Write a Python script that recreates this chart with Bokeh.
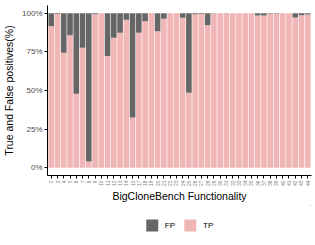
import math
from bokeh.plotting import figure
from bokeh.layouts import column
from bokeh.models import ColumnDataSource, Range1d, FixedTicker, Legend, LegendItem
from bokeh.embed import file_html
from bokeh.resources import INLINE

# Functionality IDs (x categories)
functionality = [2, 3, 4, 5, 6, 7, 8, 9, 10, 11, 12, 13, 14, 15, 17, 18, 19, 20, 21, 22,
                 23, 24, 25, 26, 27, 28, 29, 30, 31, 32, 33, 34, 35, 36, 37, 38, 39, 40,
                 41, 42, 43, 44]
# True positives (%) per functionality
tp_pct = [91.5, 99.5, 74.5, 85.7, 47.9, 77.7, 4.1, 99.3, 100, 72.3, 84.2, 87.4, 95.7, 32.5,
          87.4, 94.8, 100, 88.3, 96.5, 100, 100, 97.0, 48.5, 99.4, 99.5, 92.2, 99.8, 100,
          99.8, 100, 100, 100, 100, 98.5, 98.5, 99.7, 99.7, 100, 100, 97.2, 98.7, 99.2]
# False positives (%) per functionality
fp_pct = [round(100 - v, 1) for v in tp_pct]

y_ticks = [0, 25, 50, 75, 100]
y_tick_labels = ["0%", "25%", "50%", "75%", "100%"]
legend_labels = ["FP", "TP"]

PINK = "#F0B6B6"
GRAY = "#666666"
FONT = "Liberation Sans"

xpos = list(range(1, len(functionality) + 1))
source = ColumnDataSource(dict(x=xpos, tp=tp_pct, fp=fp_pct))

p = figure(frame_width=264, frame_height=170, output_backend="svg", toolbar_location=None,
           x_range=Range1d(0.4, len(xpos) + 0.6), y_range=Range1d(-5, 105),
           min_border_left=46, min_border_right=5, min_border_top=5, min_border_bottom=30)

rs = p.vbar_stack(["tp", "fp"], x="x", width=0.9, color=[PINK, GRAY], line_color=None,
                  source=source)

p.xgrid.visible = False
p.ygrid.visible = False
p.outline_line_color = None
p.background_fill_color = "white"

p.xaxis.ticker = FixedTicker(ticks=xpos)
p.xaxis.major_label_overrides = {x: str(f) for x, f in zip(xpos, functionality)}
p.xaxis.major_label_orientation = math.pi / 2
p.xaxis.major_label_text_font_size = "5px"
p.xaxis.major_label_text_color = "#7F7F7F"
p.xaxis.major_label_standoff = 2
p.xaxis.axis_label = "BigCloneBench Functionality"
p.xaxis.axis_label_standoff = 1

p.yaxis.ticker = FixedTicker(ticks=y_ticks)
p.yaxis.major_label_overrides = {t: l for t, l in zip(y_ticks, y_tick_labels)}
p.yaxis.major_label_text_font_size = "8px"
p.yaxis.major_label_text_color = "#4D4D4D"
p.yaxis.major_label_standoff = 2
p.yaxis.axis_label = "True and False positives(%)"
p.yaxis.axis_label_standoff = 4

for ax in (p.xaxis, p.yaxis):
    ax.axis_line_color = "black"
    ax.axis_line_width = 1
    ax.major_tick_line_color = "black"
    ax.major_tick_out = 3
    ax.major_tick_in = 0
    ax.minor_tick_line_color = None
    ax.major_label_text_font = FONT
    ax.axis_label_text_font = FONT
    ax.axis_label_text_font_size = "10.5px"
    ax.axis_label_text_font_style = "normal"
    ax.axis_label_text_color = "black"

# Legend lives in its own strip below the chart; its key renderers share the
# data source but sit outside this strip's visible range.
pl = figure(width=315, height=40, output_backend="svg", toolbar_location=None,
            x_axis_location=None, y_axis_location=None,
            min_border_left=47, min_border_right=0, min_border_top=0, min_border_bottom=0,
            x_range=Range1d(-1000, -999), y_range=Range1d(-1000, -999))
pl.xgrid.visible = False
pl.ygrid.visible = False
pl.outline_line_color = None
key_fp = pl.vbar(x="x", top="fp", width=0.9, fill_color=GRAY, line_color=None, source=source)
key_tp = pl.vbar(x="x", top="tp", width=0.9, fill_color=PINK, line_color=None, source=source)
legend = Legend(items=[LegendItem(label=legend_labels[0], renderers=[key_fp]),
                       LegendItem(label=legend_labels[1], renderers=[key_tp])],
                orientation="horizontal", location="center",
                label_text_font=FONT, label_text_font_size="8px", label_text_color="black",
                label_text_font_style="normal",
                glyph_width=15, glyph_height=15, label_width=0, label_height=0,
                label_standoff=6, spacing=7,
                padding=0, margin=0, border_line_alpha=0, background_fill_alpha=0)
pl.add_layout(legend, "center")

layout = column(p, pl, spacing=0)
open("out.html", "w").write(file_html(layout, INLINE))
